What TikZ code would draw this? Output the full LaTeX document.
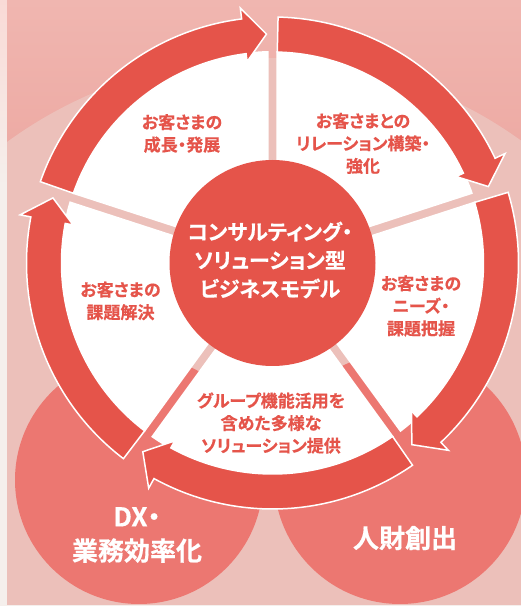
\documentclass[tikz,border=0pt]{standalone}
\usepackage{fontspec}
\setmainfont{Noto Sans CJK JP}[BoldFont={Noto Sans CJK JP Bold}, RawFeature=+palt, BoldFeatures={FakeBold=0.5}]
\usetikzlibrary{calc}
\definecolor{wred}{HTML}{E5544A}
\definecolor{lightcirc}{HTML}{ECC0BA}
\definecolor{salmon}{HTML}{EC7771}
\definecolor{bgtop}{HTML}{F0B6B0}
\definecolor{bgbot}{HTML}{EA9E97}
\definecolor{strip}{HTML}{F5EFEC}
\definecolor{striptop}{HTML}{F9DAD6}
\tikzset{
 lbl/.style={text=wred, font=\bfseries\fontsize{17}{22.5}\selectfont, align=center, inner sep=0pt},
 ctr/.style={text=white, font=\bfseries\fontsize{21}{28.5}\selectfont, align=center, inner sep=0pt},
 big/.style={text=white, font=\bfseries\fontsize{26}{34}\selectfont, align=center, inner sep=0pt},
 ringarrow/.style={fill=wred, draw=white, line width=1.5pt, line join=miter},
}
\begin{document}
\begin{tikzpicture}[x=1pt,y=1pt]
\useasboundingbox (0,0) rectangle (521,606);
% background
\fill[strip] (0,0) rectangle (521,606);
\shade[top color=striptop, bottom color=strip] (0,420) rectangle (7,606);
\shade[top color=bgtop, bottom color=bgbot] (7,300) rectangle (521,606);
\begin{scope}
 \clip (7,1) rectangle (521,606);
 \fill[bgbot] (7,1) rectangle (521,300.5);
 \fill[lightcirc] (265,110) circle[radius=438];
 \fill[salmon] (139,126) circle[radius=124];
 \fill[salmon] (400,128) circle[radius=126];
\end{scope}
% wheel
\begin{scope}[shift={(272.5,343)}]
 \foreach \a in {90,18,-54,-126,-198} {
  \begin{scope}
   \pgfmathsetmacro\b{\a-36}
   \clip (\b:6.8) -- +(\a:300) -- +(\b:420) -- +(\a-72:300) -- cycle;
   \fill[white] (0,0) circle[radius=212];
  \end{scope}
 }
 \foreach \a in {90,18,-54,-126,-198} {
  \fill[ringarrow] (\a-1.3:246) arc[start angle=\a-1.3, end angle=\a-64.8, radius=246]
    -- (\a-64.8:257) -- (\a-70.5:229) -- (\a-64.8:203) -- (\a-64.8:211)
    arc[start angle=\a-64.8, end angle=\a-1.3, radius=211] -- cycle;
 }
 \fill[wred] (0,0) circle[radius=103];
\end{scope}
% texts
\node[ctr] (core) at (270,346) {コンサルティング・\\ソリューション型\\ビジネスモデル};
\node[lbl] (growth) at (182,472.5) {お客さまの\\成長・発展};
\node[lbl] (relation) at (363,462.5) {お客さまとの\\リレーション構築・\\強化};
\node[lbl] (needs) at (421,300) {お客さまの\\ニーズ・\\課題把握};
\node[lbl] (solve) at (120.5,305) {お客さまの\\課題解決};
\node[lbl] (group) at (271,183) {グループ機能活用を\\含めた多様な\\ソリューション提供};
\node[big] (dx) at (137,71) {DX・\\業務効率化};
\node[big] (jinzai) at (405,68) {人財創出};
\end{tikzpicture}
\end{document}
